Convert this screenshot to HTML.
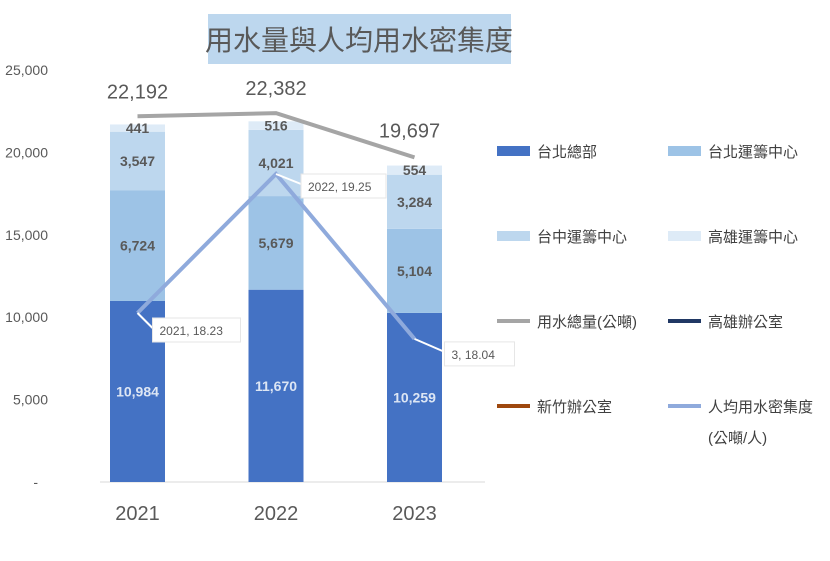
<!DOCTYPE html>
<html><head><meta charset="utf-8"><style>
body{margin:0;background:#fff;}
svg text{font-family:"Liberation Sans","Noto Sans CJK TC",sans-serif;}
</style></head><body>
<svg width="830" height="556" viewBox="0 0 830 556" xmlns="http://www.w3.org/2000/svg">
<g id="chart"></g>
</svg>
<script>
const years=["2021","2022","2023"];
const hq=[10984,11670,10259];
const tpCenter=[6724,5679,5104];
const tcCenter=[3547,4021,3284];
const khCenter=[441,516,554];
const totals=[22192,22382,19697];
const perCapita=[18.23,19.25,18.04];
const yTicks=[0,5000,10000,15000,20000,25000];
const yTickLabels=["-","5,000","10,000","15,000","20,000","25,000"];
const pcLabels=["2021, 18.23","2022, 19.25","3, 18.04"];

const NS="http://www.w3.org/2000/svg";
const g=document.getElementById('chart');
function el(t,a,p){const e=document.createElementNS(NS,t);for(const k in a)e.setAttribute(k,a[k]);(p||g).appendChild(e);return e;}
const y=v=>482-v*0.01648;
const x=i=>137.5+i*138.5;
const y2=v=>313-(v-18.23)*136.27;
const BW=55;

// title
let t=el('rect',{x:208,y:14,width:303,height:50,fill:'#BDD7EE'});

t=el('text',{x:359,y:50,'text-anchor':'middle','font-size':28,fill:'#595959'});t.textContent='用水量與人均用水密集度';


// y ticks
yTicks.forEach((v,i)=>{const e=el('text',{x:i==0?38:48,y:y(v)+5,'text-anchor':'end','font-size':14,fill:'#595959'});e.textContent=yTickLabels[i];
});
t=el('line',{x1:100,y1:482,x2:485,y2:482,stroke:'#D9D9D9','stroke-width':1});


const series=[[hq,'#4472C4','#DDE6F4'],[tpCenter,'#9DC3E6','#595959'],[tcCenter,'#BDD7EE','#595959'],[khCenter,'#DEEBF7','#595959']];
const names=['bar-taipei-hq','bar-taipei-center','bar-taichung-center','bar-kaohsiung-center'];
years.forEach((yr,i)=>{
  let base=0;
  series.forEach((s,k)=>{
    const v=s[0][i];
    const r=el('rect',{x:x(i)-BW/2,y:y(base+v),width:BW,height:y(base)-y(base+v),fill:s[1]});
    
    const lbl=el('text',{x:x(i),y:(y(base)+y(base+v))/2+5,'text-anchor':'middle','font-size':14,'font-weight':'bold',fill:s[2]});
    lbl.textContent=v.toLocaleString('en-US');
    
    base+=v;
  });
  const xl=el('text',{x:x(i),y:520,'text-anchor':'middle','font-size':20,fill:'#595959'});xl.textContent=yr;
  
});

// total line
t=el('polyline',{points:totals.map((v,i)=>x(i)+','+y(v)).join(' '),fill:'none',stroke:'#A5A5A5','stroke-width':4});

totals.forEach((v,i)=>{const e=el('text',{x:x(i)+(i==2?-5:0),y:y(v)-18+(i==2?-2:0),'text-anchor':'middle','font-size':20,fill:'#595959'});e.textContent=v.toLocaleString('en-US');
});

// per capita line
t=el('polyline',{points:perCapita.map((v,i)=>x(i)+','+y2(v)).join(' '),fill:'none',stroke:'#8FAADC','stroke-width':4});

const boxOff=[[15,5,88],[25,0,85],[30,3,70]];
perCapita.forEach((v,i)=>{
  const px=x(i),py=y2(v),bx=px+boxOff[i][0],by=py+boxOff[i][1];
  const ln=el('line',{x1:px,y1:py,x2:bx,y2:by+10,stroke:'#fff','stroke-width':2});
  
  const r=el('rect',{x:bx,y:by,width:boxOff[i][2],height:24,fill:'#fff',stroke:'#E6E6E6'});
  
  const tx=el('text',{x:bx+7,y:by+17,'font-size':12,fill:'#595959'});tx.textContent=pcLabels[i];
  
});

// legend
const leg=[[497,151,'#4472C4','台北總部',10],[668,151,'#9DC3E6','台北運籌中心',10],[497,236,'#BDD7EE','台中運籌中心',10],[668,236,'#DEEBF7','高雄運籌中心',10],
[497,321,'#A5A5A5','用水總量(公噸)',4],[668,321,'#203864','高雄辦公室',4],[497,406,'#9E480E','新竹辦公室',4],[668,406,'#8FAADC','人均用水密集度',4]];
leg.forEach(l=>{
  const r=el('rect',{x:l[0],y:l[1]-l[4]/2,width:33,height:l[4],fill:l[2]});
  
  const tx=el('text',{x:l[0]+40,y:l[1]+6,'font-size':15,fill:'#404040'});tx.textContent=l[3];
  
});
t=el('text',{x:708,y:443,'font-size':15,fill:'#404040'});t.textContent='(公噸/人)';

</script>
</body></html>
